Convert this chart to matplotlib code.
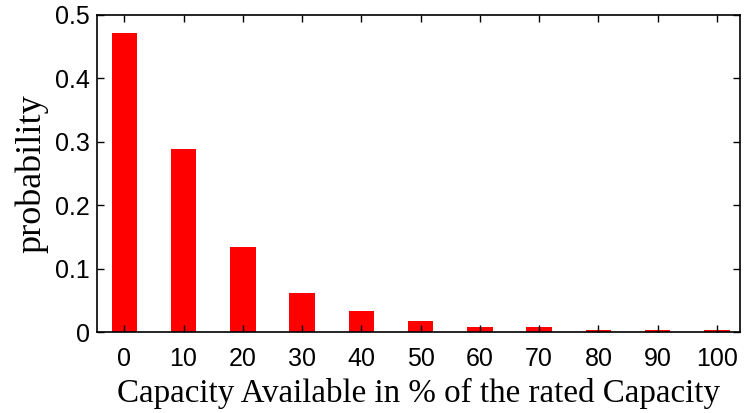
import matplotlib.pyplot as plt
import numpy as np

# capacity states (% of rated capacity) and their probabilities
capacity = ['0', '10', '20', '30', '40', '50', '60', '70', '80', '90', '100']
probability = [0.472, 0.289, 0.134, 0.061, 0.033, 0.017, 0.0074, 0.0072, 0.004, 0.004, 0.004]

fig = plt.figure(figsize=(7.46, 4.13), dpi=100)
ax = fig.add_axes([0.130, 0.196, 0.862, 0.768])

x = np.arange(len(capacity))
ax.bar(x, probability, width=0.43, color='#ff0000', edgecolor='none', zorder=1)

ax.set_xlim(-0.46, 10.39)
ax.set_ylim(0, 0.5)
ax.set_xticks(x)
ax.set_xticklabels(capacity)
ax.set_yticks([0, 0.1, 0.2, 0.3, 0.4, 0.5])
ax.set_yticklabels(['0', '0.1', '0.2', '0.3', '0.4', '0.5'])

# MATLAB-like box with inward ticks on all four sides
ax.tick_params(direction='in', length=5, width=1, top=True, right=True,
               labelsize=18)
ax.tick_params(axis='x', pad=11)
ax.tick_params(axis='y', pad=5)
for lab in ax.get_xticklabels() + ax.get_yticklabels():
    lab.set_family('Liberation Sans')
for sp in ax.spines.values():
    sp.set_linewidth(1.2)
    sp.set_zorder(3)

ax.set_xlabel('Capacity Available in % of the rated Capacity',
              family='Liberation Serif', fontsize=23.8, labelpad=5)
ax.set_ylabel('probability', family='Liberation Serif', fontsize=26, labelpad=5)

plt.savefig('out.png', dpi=100)
